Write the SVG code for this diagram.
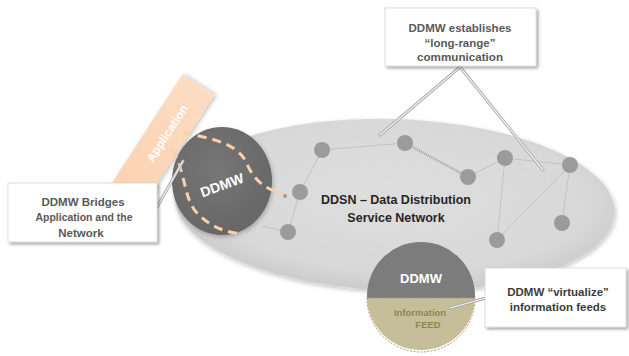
<svg xmlns="http://www.w3.org/2000/svg" width="629" height="356" viewBox="0 0 629 356">
  <defs>
    <style>
      text { font-family: "Liberation Sans", Arial, sans-serif; font-weight: bold; text-anchor: middle; }
      .callout { fill: #ffffff; stroke: #d4d4d4; stroke-width: 0.8; filter: url(#boxShadow); }
      .note { font-size: 11.5px; fill: #595959; }
      .note-dark { font-size: 11.5px; fill: #3c3c3c; }
      .link { stroke: #c2c2c2; stroke-width: 1; fill: none; }
      .node { fill: #9b9b9b; }
      .lead-under { stroke: #a9a9a9; stroke-width: 3; fill: none; stroke-linecap: round; }
      .lead-over { stroke: #f4f4f4; stroke-width: 1.2; fill: none; stroke-linecap: round; }
      .bridge { stroke: #fbcfaa; stroke-width: 3; fill: none; stroke-dasharray: 9 6; stroke-linecap: butt; }
    </style>
    <radialGradient id="netFill" cx="50%" cy="45%" r="55%">
      <stop offset="0" stop-color="#dedede"/>
      <stop offset="0.8" stop-color="#d8d8d8"/>
      <stop offset="1" stop-color="#cbcbcb"/>
    </radialGradient>
    <radialGradient id="mwFill" cx="45%" cy="40%" r="60%">
      <stop offset="0" stop-color="#767676"/>
      <stop offset="1" stop-color="#676767"/>
    </radialGradient>
    <linearGradient id="appFill" x1="0" y1="0" x2="1" y2="0">
      <stop offset="0" stop-color="#fbd2b0"/>
      <stop offset="1" stop-color="#fcdcc2"/>
    </linearGradient>
    <filter id="boxShadow" x="-10%" y="-20%" width="125%" height="150%">
      <feDropShadow dx="2" dy="2" stdDeviation="1.4" flood-color="#000" flood-opacity="0.35"/>
    </filter>
    <filter id="softShadow" x="-10%" y="-10%" width="120%" height="130%">
      <feDropShadow dx="1" dy="2" stdDeviation="2" flood-color="#000" flood-opacity="0.25"/>
    </filter>
    <clipPath id="feedClip">
      <circle cx="421" cy="296" r="54"/>
    </clipPath>
  </defs>

  <rect width="629" height="356" fill="#ffffff"/>

  <!-- Data distribution service network disc -->
  <g id="ddsn">
    <ellipse cx="395" cy="205" rx="220" ry="86" transform="rotate(2 395 205)" fill="url(#netFill)" filter="url(#softShadow)"/>
  </g>

  <!-- Links between network nodes -->
  <g id="connectors">
    <line class="link" x1="322" y1="150" x2="405" y2="143"/>
    <line x1="405" y1="143" x2="468" y2="177" stroke="#a2a2a2" stroke-width="2.5" stroke-dasharray="1 1"/>
    <line class="link" x1="468" y1="177" x2="505" y2="158"/>
    <line class="link" x1="505" y1="158" x2="570" y2="165"/>
    <line class="link" x1="505" y1="158" x2="497" y2="240"/>
    <line class="link" x1="570" y1="165" x2="562" y2="223"/>
    <line class="link" x1="570" y1="165" x2="497" y2="240" stroke="#cbcbcb"/>
    <line class="link" x1="322" y1="150" x2="300" y2="192"/>
    <line class="link" x1="300" y1="192" x2="288" y2="232"/>
    <line class="link" x1="288" y1="232" x2="262" y2="226"/>
  </g>

  <!-- Network nodes -->
  <g id="nodes">
    <circle id="n1" class="node" cx="322" cy="150" r="8"/>
    <circle id="n2" class="node" cx="405" cy="143" r="8"/>
    <circle id="n3" class="node" cx="468" cy="177" r="8"/>
    <circle id="n4" class="node" cx="505" cy="158" r="8"/>
    <circle id="n5" class="node" cx="570" cy="165" r="8"/>
    <circle id="n6" class="node" cx="562" cy="223" r="8"/>
    <circle id="n7" class="node" cx="497" cy="240" r="8"/>
    <circle id="n8" class="node" cx="300" cy="192" r="8"/>
    <circle id="n9" class="node" cx="288" cy="232" r="8"/>
    <circle id="n10" class="node" cx="285" cy="196" r="2"/>
  </g>

  <g id="ddsn-label">
    <text x="396" y="203.5" font-size="12.5" fill="#262626">DDSN – Data Distribution</text>
    <text x="396" y="222" font-size="12.5" fill="#262626">Service Network</text>
  </g>

  <!-- Application tile -->
  <g id="application" transform="translate(198.5 84.5) rotate(-57)">
    <rect x="-140" y="-19" width="140" height="38" fill="url(#appFill)" filter="url(#softShadow)"/>
    <text x="-58" y="4.5" font-size="12" fill="#ffffff">Application</text>
  </g>

  <!-- Middleware bridging the application -->
  <g id="ddmw-bridge">
    <ellipse cx="222" cy="181" rx="50" ry="54" fill="url(#mwFill)" filter="url(#softShadow)"/>
    <text x="222" y="190" font-size="14" fill="#ffffff" transform="rotate(-20 222 185)">DDMW</text>
    <path class="bridge" d="M183 133 C205 137 235 142 245 160 C251 173 258 188 284 194"/>
    <path class="bridge" d="M172 150 C186 170 183 200 198 214 C210 226 225 233 244 234"/>
  </g>

  <!-- Middleware virtualizing an information feed -->
  <g id="ddmw-feed">
    <g clip-path="url(#feedClip)" filter="url(#softShadow)">
      <rect x="366" y="240" width="112" height="120" fill="#c6be98"/>
      <rect x="366" y="240" width="112" height="58" fill="#7b7b7b"/>
    </g>
    <line x1="367" y1="298" x2="475" y2="298" stroke="#a39b72" stroke-width="1" stroke-dasharray="2 1.5"/>
    <path d="M367 298 A54 54 0 0 0 475 298" fill="none" stroke="#a39b72" stroke-width="1" stroke-dasharray="2 1.5"/>
    <text x="421" y="283" font-size="13" fill="#ffffff">DDMW</text>
    <text x="420" y="316" font-size="9.5" fill="#8e8552">Information</text>
    <text x="428" y="327.5" font-size="9.5" fill="#8e8552">FEED</text>
  </g>

  <!-- Callout leaders -->
  <g id="leaders">
    <path class="lead-under" d="M380 135 L460 67 L543 170"/>
    <path class="lead-over" d="M380 135 L460 67 L543 170"/>
    <line class="lead-under" x1="157" y1="207" x2="183" y2="161"/>
    <line class="lead-over" x1="157" y1="207" x2="183" y2="161"/>
    <line class="lead-under" x1="450" y1="308" x2="486" y2="298"/>
    <line class="lead-over" x1="450" y1="308" x2="486" y2="298"/>
  </g>

  <!-- Callouts -->
  <g id="callout-range">
    <rect class="callout" x="385" y="8" width="151" height="58"/>
    <text class="note" x="460" y="32" font-size="12">DDMW establishes</text>
    <text class="note" x="460" y="46.5">“long-range”</text>
    <text class="note" x="460" y="61" textLength="86" lengthAdjust="spacingAndGlyphs">communication</text>
  </g>

  <g id="callout-bridge">
    <rect class="callout" x="8" y="183" width="149" height="59"/>
    <text class="note" x="83" y="206" font-size="11">DDMW Bridges</text>
    <text class="note" x="84" y="221" font-size="11" textLength="97" lengthAdjust="spacingAndGlyphs">Application and the</text>
    <text class="note" x="81" y="236.5" font-size="11">Network</text>
  </g>

  <g id="callout-virtualize">
    <rect class="callout" x="485" y="268" width="141" height="59"/>
    <text class="note-dark" x="558" y="296">DDMW “virtualize”</text>
    <text class="note-dark" x="558" y="311">information feeds</text>
  </g>
</svg>
